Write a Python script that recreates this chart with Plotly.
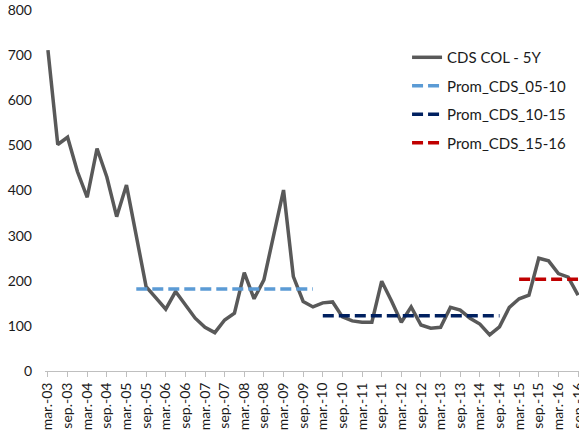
import plotly.graph_objects as go

# Quarterly categories (mar.-03 ... sep.-16)
quarters = [
    "mar.-03", "jun.-03", "sep.-03", "dic.-03", "mar.-04", "jun.-04", "sep.-04", "dic.-04",
    "mar.-05", "jun.-05", "sep.-05", "dic.-05", "mar.-06", "jun.-06", "sep.-06", "dic.-06",
    "mar.-07", "jun.-07", "sep.-07", "dic.-07", "mar.-08", "jun.-08", "sep.-08", "dic.-08",
    "mar.-09", "jun.-09", "sep.-09", "dic.-09", "mar.-10", "jun.-10", "sep.-10", "dic.-10",
    "mar.-11", "jun.-11", "sep.-11", "dic.-11", "mar.-12", "jun.-12", "sep.-12", "dic.-12",
    "mar.-13", "jun.-13", "sep.-13", "dic.-13", "mar.-14", "jun.-14", "sep.-14", "dic.-14",
    "mar.-15", "jun.-15", "sep.-15", "dic.-15", "mar.-16", "jun.-16", "sep.-16",
]

cds_col_5y = [711, 502, 518, 442, 385, 493, 430, 342, 412, 298,
              187, 162, 137, 176, 146, 117, 97, 85, 113, 128,
              218, 160, 202, 298, 401, 209, 154, 142, 151, 153,
              120, 111, 108, 108, 199, 155, 108, 142, 102, 95,
              97, 141, 135, 117, 104, 80, 98, 141, 160, 168,
              250, 244, 216, 208, 168]

prom_05_10 = 181.7
prom_10_15 = 122.5
prom_15_16 = 203.2
span_05_10 = ("jun.-05", "dic.-09")
span_10_15 = ("mar.-10", "sep.-14")
span_15_16 = ("mar.-15", "sep.-16")

tick_labels = ["mar.-03", "sep.-03", "mar.-04", "sep.-04", "mar.-05", "sep.-05",
               "mar.-06", "sep.-06", "mar.-07", "sep.-07", "mar.-08", "sep.-08",
               "mar.-09", "sep.-09", "mar.-10", "sep.-10", "mar.-11", "sep.-11",
               "mar.-12", "sep.-12", "mar.-13", "sep.-13", "mar.-14", "sep.-14",
               "mar.-15", "sep.-15", "mar.-16", "sep.-16"]


def avg_series(value, span):
    a, b = quarters.index(span[0]), quarters.index(span[1])
    return [value if a <= i <= b else None for i in range(len(quarters))]


FONT = "Lato"
DASH = "11px,5px"
fig = go.Figure()
fig.add_trace(go.Scatter(x=quarters, y=cds_col_5y, mode="lines", name="CDS COL - 5Y",
                         line=dict(color="#595959", width=3.5), legendgroup="a"))
fig.add_trace(go.Scatter(x=quarters, y=avg_series(prom_05_10, span_05_10), mode="lines",
                         name="Prom_CDS_05-10", legendgroup="b",
                         line=dict(color="#5B9BD5", width=3.5, dash=DASH)))
fig.add_trace(go.Scatter(x=quarters, y=avg_series(prom_10_15, span_10_15), mode="lines",
                         name="Prom_CDS_10-15", legendgroup="c",
                         line=dict(color="#002060", width=3.5, dash=DASH)))
fig.add_trace(go.Scatter(x=quarters, y=avg_series(prom_15_16, span_15_16), mode="lines",
                         name="Prom_CDS_15-16", legendgroup="d",
                         line=dict(color="#C00000", width=3.5, dash=DASH)))

fig.update_layout(
    width=579, height=438,
    margin=dict(l=45, r=0, t=10, b=67, autoexpand=False),
    plot_bgcolor="white", paper_bgcolor="white",
    font=dict(family=FONT, size=14, color="#1a1a1a"),
    showlegend=True,
    legend=dict(x=0.678, y=0.914, xanchor="left", yanchor="top",
                bgcolor="rgba(0,0,0,0)", tracegroupgap=6,
                font=dict(family=FONT, size=15, color="#1a1a1a")),
    xaxis=dict(type="category", range=[-0.3, 54.1],
               tickmode="array", tickvals=tick_labels, ticktext=tick_labels,
               tickangle=-90, ticks="outside", ticklen=5, tickcolor="#bfbfbf",
               showline=True, linecolor="#bfbfbf", linewidth=1,
               showgrid=False, zeroline=False, automargin=False,
               tickfont=dict(family=FONT, size=14, color="#1a1a1a")),
    yaxis=dict(range=[0, 800], tickvals=[0, 100, 200, 300, 400, 500, 600, 700, 800],
               showgrid=False, zeroline=False, showline=False, ticks="",
               ticklabelstandoff=12, automargin=False,
               tickfont=dict(family=FONT, size=14, color="#1a1a1a")),
)

fig.write_html("out.html", config={"displayModeBar": False},
               post_script="document.body.style.margin='0';")
